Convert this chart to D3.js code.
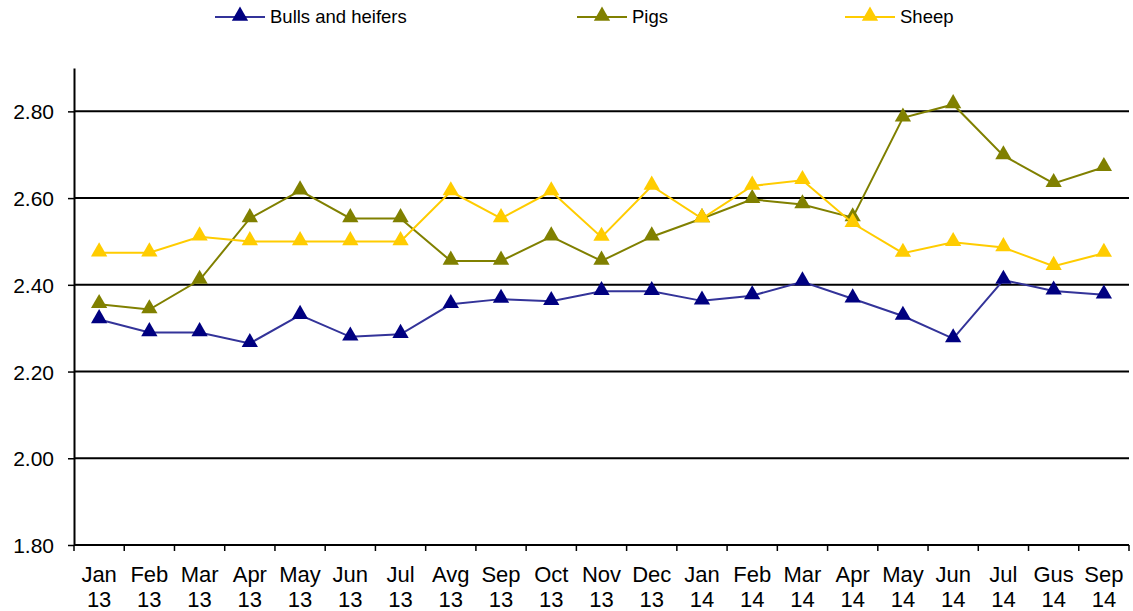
<!DOCTYPE html>
<html><head><meta charset="utf-8">
<script src="https://cdn.jsdelivr.net/npm/d3@7"></script>
<style>body{margin:0;background:#fff}svg{display:block}text{font-family:"Liberation Sans",Arial,sans-serif;fill:#000}</style>
</head><body><svg id="c" width="1133" height="611"></svg>
<script>
const months = ["Jan","Feb","Mar","Apr","May","Jun","Jul","Avg","Sep","Oct","Nov","Dec","Jan","Feb","Mar","Apr","May","Jun","Jul","Gus","Sep"];
const years = ["13","13","13","13","13","13","13","13","13","13","13","13","14","14","14","14","14","14","14","14","14"];
const bulls = [2.32,2.29,2.29,2.265,2.33,2.28,2.286,2.355,2.367,2.362,2.385,2.385,2.363,2.375,2.407,2.368,2.328,2.276,2.411,2.386,2.377];
const pigs  = [2.355,2.343,2.411,2.553,2.617,2.553,2.553,2.455,2.455,2.511,2.455,2.511,2.553,2.597,2.585,2.555,2.785,2.816,2.698,2.634,2.671];
const sheep = [2.474,2.474,2.511,2.50,2.50,2.50,2.50,2.615,2.553,2.615,2.51,2.628,2.553,2.628,2.641,2.542,2.473,2.498,2.486,2.443,2.473];
const yTicks = [1.8,2.0,2.2,2.4,2.6,2.8];
const seriesNames = ["Bulls and heifers","Pigs","Sheep"];
const lineColors = ["#333399","#808000","#FFCC00"];
const markColors = ["#000080","#808000","#FFCC00"];

const svg = d3.select("#c");
const L=74, R=1129, T=68, B=545;
const idx = months.map((m,i)=>i);
const x = d3.scaleBand().domain(idx).range([L,R]).padding(0);
const y = d3.scaleLinear().domain([1.8,2.9]).range([B,T]);

// gridlines
svg.append("g").selectAll("line").data(yTicks.slice(1)).join("line")
  .attr("x1",L).attr("x2",R).attr("y1",d=>y(d)).attr("y2",d=>y(d))
  .attr("stroke","#000").attr("stroke-width",2);

// y axis
const ya = svg.append("g").attr("transform",`translate(${L},0)`)
  .call(d3.axisLeft(y).tickValues(yTicks).tickFormat(d3.format(".2f")).tickSize(6).tickSizeOuter(0));
ya.select(".domain").attr("stroke","#000").attr("stroke-width",2);
ya.selectAll(".tick line").attr("stroke","#000").attr("stroke-width",1.5);
ya.selectAll(".tick text").attr("font-size",21).attr("x",-20).attr("dy","0.36em").attr("font-family","Liberation Sans, Arial, sans-serif");

// x axis
const xa = svg.append("g").attr("transform",`translate(0,${B})`);
xa.append("line").attr("x1",L).attr("x2",R).attr("stroke","#000").attr("stroke-width",2);
const bounds = idx.map(i=>x(i)).concat([R]);
xa.selectAll("line.tk").data(bounds).join("line").attr("class","tk")
  .attr("x1",d=>d).attr("x2",d=>d).attr("y1",0).attr("y2",6).attr("stroke","#000").attr("stroke-width",1.5);
const lab = xa.selectAll("text.lb").data(idx).join("text").attr("class","lb")
  .attr("text-anchor","middle").attr("font-size",22)
  .attr("transform",d=>`translate(${x(d)+x.bandwidth()/2},0)`);
lab.append("tspan").attr("x",0).attr("y",37).text(d=>months[d]);
lab.append("tspan").attr("x",0).attr("y",62).text(d=>years[d]);

const cx = i=>x(i)+x.bandwidth()/2;
const line = d3.line().x((d,i)=>cx(i)).y(d=>y(d));
const tri = d3.symbol().type(d3.symbolTriangle).size(115);
const allSeries = [bulls,pigs,sheep];

[0,1,2].forEach(s=>{
  const g = svg.append("g");
  g.append("path").datum(allSeries[s]).attr("d",line).attr("fill","none")
    .attr("stroke",lineColors[s]).attr("stroke-width",2);
  g.selectAll("path.m").data(allSeries[s]).join("path").attr("class","m")
    .attr("d",tri).attr("fill",markColors[s])
    .attr("transform",(d,i)=>`translate(${cx(i)},${y(d)-1})`);
});

// legend
const legX = [215,577,845];
seriesNames.forEach((n,s)=>{
  const g = svg.append("g").attr("transform",`translate(${legX[s]},17)`);
  g.append("line").attr("x1",0).attr("x2",50).attr("stroke",lineColors[s]).attr("stroke-width",2);
  g.append("path").attr("d",tri).attr("fill",markColors[s]).attr("transform","translate(25,-1)");
  g.append("text").attr("x",55).attr("y",6).attr("font-size",18.5).text(n);
});
</script></body></html>
